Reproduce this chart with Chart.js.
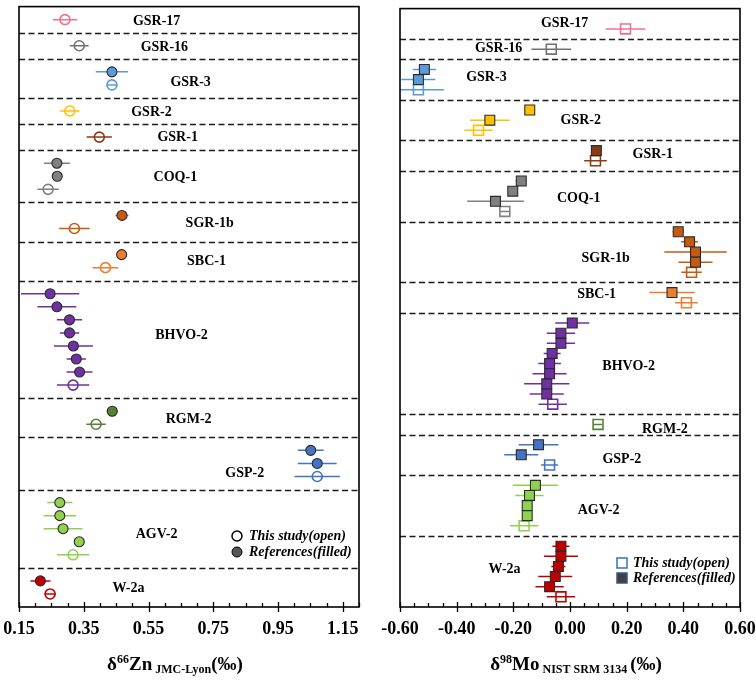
<!DOCTYPE html>
<html>
<head>
<meta charset="utf-8">
<script src="https://cdn.jsdelivr.net/npm/chart.js@4.4.1/dist/chart.umd.min.js"></script>
<style>
  html, body { margin: 0; padding: 0; background: #fff; }
  #wrap { position: relative; width: 756px; height: 680px; }
  .panel { position: absolute; top: 0; width: 378px; height: 680px; }
  #left { left: 0; }
  #right { left: 378px; }
</style>
</head>
<body>
<div id="wrap">
  <div class="panel" id="left"><canvas id="znChart"></canvas></div>
  <div class="panel" id="right"><canvas id="moChart"></canvas></div>
</div>
<script>
const SERIF = "'Liberation Serif', 'Times New Roman', serif";

// reference materials, top to bottom
const samples = ['GSR-17', 'GSR-16', 'GSR-3', 'GSR-2', 'GSR-1', 'COQ-1', 'SGR-1b', 'SBC-1', 'BHVO-2', 'RGM-2', 'GSP-2', 'AGV-2', 'W-2a'];
const sampleColors = ['#ef6f93', '#777070', '#5b9bd5', '#ffc000', '#8b3a14', '#808080', '#c55a11', '#ed7d31', '#7030a0', '#548235', '#4472c4', '#92d050', '#c00000'];

// δ66Zn: literature values (filled) and this study (open), 2SD
const znRef = [[], [], [0.437], [], [], [0.267, 0.268], [0.468], [0.467],
  [0.246, 0.267, 0.306, 0.306, 0.318, 0.327, 0.337], [0.438], [1.051, 1.071], [0.276, 0.276, 0.286, 0.336], [0.216]];
const znRefErr = [[], [], [0.05], [], [], [0.04, 0.016], [0.02], [0.008],
  [0.09, 0.06, 0.039, 0.03, 0.06, 0.03, 0.04], [0.017], [0.04, 0.06], [0.039, 0.05, 0.06, 0.015], [0.031]];
const znThis = [0.292, 0.336, 0.437, 0.307, 0.398, 0.240, 0.321, 0.417, 0.317, 0.388, 1.071, 0.317, 0.246];
const znThisErr = [0.037, 0.029, 0.017, 0.03, 0.039, 0.033, 0.047, 0.04, 0.05, 0.03, 0.07, 0.05, 0.017];
const znTicks = [0.15, 0.35, 0.55, 0.75, 0.95, 1.15];

// δ98Mo
const moRef = [[], [], [-0.514, -0.535], [-0.142, -0.283], [0.093], [-0.172, -0.202, -0.263], [0.382, 0.422, 0.443, 0.443], [0.360],
  [0.008, -0.032, -0.032, -0.063, -0.072, -0.072, -0.082, -0.082], [], [-0.111, -0.172], [-0.122, -0.143, -0.151, -0.151], [-0.032, -0.032, -0.041, -0.052, -0.072]];
const moRefErr = [[], [], [0.041, 0.06], [0, 0.07], [0], [0.02, 0.015, 0.10], [0.02, 0.03, 0.11, 0.06], [0.08],
  [0.06, 0.05, 0.05, 0.03, 0.04, 0.06, 0.08, 0.06], [], [0.07, 0.06], [0.08, 0.05, 0.01, 0.01], [0.03, 0.06, 0.025, 0.06, 0.05]];
const moThis = [0.196, -0.066, -0.535, -0.323, 0.09, -0.230, 0.429, 0.411, -0.061, 0.099, -0.072, -0.162, -0.032];
const moThisErr = [0.07, 0.07, 0.09, 0.05, 0.04, 0.016, 0.036, 0.04, 0.05, 0.015, 0.03, 0.05, 0.05];
const moTicks = [-0.6, -0.4, -0.2, 0, 0.2, 0.4, 0.6];

// where the sample names sit (x in axis units, y shift in rows)
const znLabelX = [0.575, 0.599, 0.68, 0.559, 0.64, 0.633, 0.739, 0.729, 0.652, 0.674, 0.847, 0.575, 0.488];
const znLabelDy = [0.1, 0.1, 0.3, 0.1, 0, 0.05, 0.1, 0.05, -0.3, 0.1, 0.75, 0.4, 0.1];
const moLabelX = [-0.019, -0.252, -0.295, 0.038, 0.292, 0.031, 0.126, 0.094, 0.207, 0.335, 0.183, 0.101, -0.231];
const moLabelDy = [-0.5, -0.1, -0.25, 0.06, -0.1, 0.2, 0.66, -0.3, 0.3, 0.5, 0.4, 0.5, -0.2];

function layoutRows(refs, refErr, vals, errs) {
  const filled = [], open = [], bars = [], seps = [], mids = [];
  let s = 0;
  samples.forEach((name, i) => {
    const col = sampleColors[i];
    const n = refs[i].length + 1;
    refs[i].forEach((v, k) => {
      filled.push({ x: v, y: s + 1 + k, c: col });
      bars.push({ x: v, e: refErr[i][k], y: s + 1 + k, c: col });
    });
    open.push({ x: vals[i], y: s + n, c: col });
    bars.push({ x: vals[i], e: errs[i], y: s + n, c: col });
    mids.push(s + (n + 1) / 2);
    s += n + 1;
    if (i < samples.length - 1) seps.push(s);
  });
  return { filled, open, bars, seps, mids, total: s };
}

function drawTitle(ctx, parts, cx, baseY) {
  let w = 0;
  parts.forEach(p => {
    ctx.font = 'bold ' + p.size + 'px ' + SERIF;
    p.w = ctx.measureText(p.t).width;
    w += p.w;
  });
  let x = cx - w / 2;
  ctx.textAlign = 'left';
  ctx.textBaseline = 'alphabetic';
  ctx.fillStyle = '#000';
  parts.forEach(p => {
    ctx.font = 'bold ' + p.size + 'px ' + SERIF;
    ctx.fillText(p.t, x, baseY + (p.dy || 0));
    x += p.w;
  });
}

function decoPlugin(rows, cfg) {
  return {
    id: 'deco',
    beforeDatasetsDraw(chart) {
      const { ctx, chartArea: a, scales: { x, y } } = chart;
      ctx.save();
      ctx.setLineDash([6, 3.5]);
      ctx.lineWidth = 1.4;
      ctx.strokeStyle = '#1a1a1a';
      rows.seps.forEach(s => {
        const py = Math.round(y.getPixelForValue(s)) + 0.5;
        ctx.beginPath();
        ctx.moveTo(a.left, py);
        ctx.lineTo(a.right, py);
        ctx.stroke();
      });
      ctx.setLineDash([]);
      ctx.beginPath();
      ctx.rect(a.left, a.top, a.right - a.left, a.bottom - a.top);
      ctx.clip();
      ctx.lineWidth = 1.5;
      rows.bars.forEach(b => {
        if (!b.e) return;
        const py = y.getPixelForValue(b.y);
        ctx.strokeStyle = b.c;
        ctx.beginPath();
        ctx.moveTo(x.getPixelForValue(b.x - b.e), py);
        ctx.lineTo(x.getPixelForValue(b.x + b.e), py);
        ctx.stroke();
      });
      ctx.restore();
    },
    afterDraw(chart) {
      const { ctx, chartArea: a, scales: { x, y } } = chart;
      ctx.save();
      // frame
      ctx.strokeStyle = '#000';
      ctx.lineWidth = 1.6;
      ctx.strokeRect(a.left, a.top, a.right - a.left, a.bottom - a.top);
      // ticks: major across the axis, minor inside
      ctx.lineWidth = 1.3;
      const nMinor = Math.round((cfg.max - cfg.min) / 0.05);
      for (let k = 0; k <= nMinor; k++) {
        const v = cfg.min + k * 0.05;
        const px = Math.round(x.getPixelForValue(v)) + 0.5;
        const major = cfg.ticks.some(t => Math.abs(t - v) < 1e-6);
        ctx.beginPath();
        ctx.moveTo(px, a.bottom - (major ? 5 : 4));
        ctx.lineTo(px, a.bottom + (major ? 5 : 0));
        ctx.stroke();
      }
      // sample names
      ctx.fillStyle = '#000';
      ctx.font = 'bold 14px ' + SERIF;
      ctx.textAlign = 'center';
      ctx.textBaseline = 'middle';
      samples.forEach((name, i) => {
        ctx.fillText(name, x.getPixelForValue(cfg.labelX[i]), y.getPixelForValue(rows.mids[i] + cfg.labelDy[i]));
      });
      cfg.legend(ctx);
      drawTitle(ctx, cfg.title, cfg.titleX, 670);
      ctx.restore();
    }
  };
}

function legendText(ctx, txt, x, y) {
  ctx.fillStyle = '#000';
  ctx.font = 'italic bold 14px ' + SERIF;
  ctx.textAlign = 'left';
  ctx.textBaseline = 'middle';
  ctx.fillText(txt, x, y);
}

function makePanel(id, rows, cfg) {
  return new Chart(document.getElementById(id), {
    type: 'scatter',
    data: {
      datasets: [
        {
          label: 'References(filled)',
          data: rows.filled,
          pointStyle: cfg.style,
          pointRadius: cfg.radius,
          pointBackgroundColor: rows.filled.map(p => p.c),
          pointBorderColor: '#2a2a2a',
          pointBorderWidth: 1.1
        },
        {
          label: 'This study(open)',
          data: rows.open,
          pointStyle: cfg.style,
          pointRadius: cfg.radius,
          pointBackgroundColor: 'rgba(255,255,255,0)',
          pointBorderColor: rows.open.map(p => p.c),
          pointBorderWidth: 1.6
        }
      ]
    },
    options: {
      responsive: true,
      maintainAspectRatio: false,
      animation: false,
      events: [],
      layout: { padding: cfg.padding },
      plugins: { legend: { display: false }, tooltip: { enabled: false } },
      scales: {
        x: {
          type: 'linear',
          min: cfg.min,
          max: cfg.max,
          afterBuildTicks: sc => { sc.ticks = cfg.ticks.map(v => ({ value: v })); },
          afterFit: sc => {
            sc.height = 73;
            sc.paddingLeft = 0;
            sc.paddingRight = 0;
          },
          grid: { display: false, drawTicks: false },
          border: { display: false },
          ticks: {
            font: { family: SERIF, size: 18, weight: 'bold' },
            color: '#000',
            padding: 12,
            maxRotation: 0,
            autoSkip: false,
            callback: v => Number(v).toFixed(2)
          }
        },
        y: { type: 'linear', reverse: true, min: cfg.yMin, max: rows.total, display: false }
      }
    },
    plugins: [decoPlugin(rows, cfg)]
  });
}

const znRows = layoutRows(znRef, znRefErr, znThis, znThisErr);
makePanel('znChart', znRows, {
  min: 0.15, max: 1.2, ticks: znTicks, yMin: 0,
  style: 'circle', radius: 5,
  padding: { left: 19, right: 19, top: 3, bottom: 0 },
  labelX: znLabelX, labelDy: znLabelDy,
  titleX: 175,
  title: [{ t: 'δ', size: 19 }, { t: '66', size: 12, dy: -7 }, { t: 'Zn', size: 19 }, { t: ' JMC-Lyon', size: 12, dy: 3 }, { t: '(‰)', size: 19 }],
  legend: ctx => {
    ctx.lineWidth = 1.5;
    ctx.strokeStyle = '#000';
    ctx.beginPath(); ctx.arc(237, 536, 5, 0, Math.PI * 2); ctx.fillStyle = '#fff'; ctx.fill(); ctx.stroke();
    ctx.beginPath(); ctx.arc(237, 552, 5, 0, Math.PI * 2); ctx.fillStyle = '#555'; ctx.fill(); ctx.lineWidth = 1; ctx.stroke();
    legendText(ctx, 'This study(open)', 249, 536);
    legendText(ctx, 'References(filled)', 249, 552);
  }
});

const moRows = layoutRows(moRef, moRefErr, moThis, moThisErr);
makePanel('moChart', moRows, {
  min: -0.6, max: 0.6, ticks: moTicks, yMin: -1,
  style: 'rect', radius: 7,
  padding: { left: 22, right: 16, top: 3, bottom: 0 },
  labelX: moLabelX, labelDy: moLabelDy,
  titleX: 198,
  title: [{ t: 'δ', size: 19 }, { t: '98', size: 12, dy: -7 }, { t: 'Mo', size: 19 }, { t: ' NIST SRM 3134 ', size: 12, dy: 3 }, { t: '(‰)', size: 19 }],
  legend: ctx => {
    ctx.lineWidth = 1.5;
    ctx.strokeStyle = '#2e75b6';
    ctx.fillStyle = '#fff';
    ctx.fillRect(239, 558, 10, 10); ctx.strokeRect(239, 558, 10, 10);
    ctx.fillStyle = '#404040';
    ctx.strokeStyle = '#35597a';
    ctx.fillRect(239, 573, 10, 10); ctx.strokeRect(239, 573, 10, 10);
    legendText(ctx, 'This study(open)', 255, 563);
    legendText(ctx, 'References(filled)', 255, 578);
  }
});
</script>
</body>
</html>
